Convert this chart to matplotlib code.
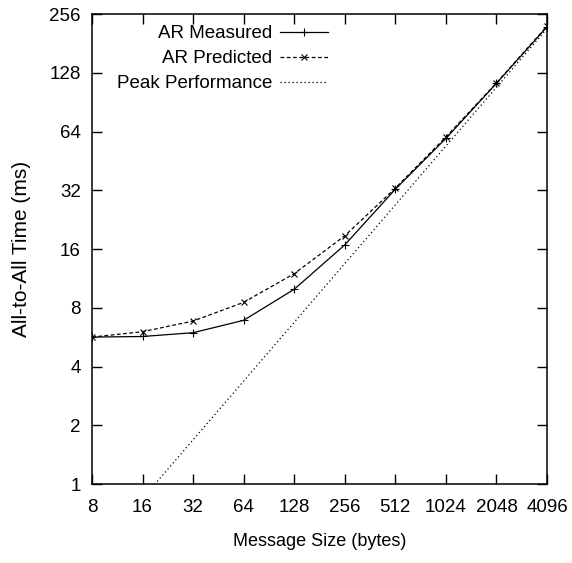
import matplotlib
matplotlib.use("Agg")
import matplotlib.pyplot as plt
from matplotlib.ticker import FixedLocator, FixedFormatter, NullLocator

plt.rcParams["font.family"] = ["Liberation Sans", "DejaVu Sans"]

# message sizes (bytes) and all-to-all times (ms)
sizes = [8, 16, 32, 64, 128, 256, 512, 1024, 2048, 4096]
measured = [5.66, 5.7, 5.96, 6.9, 9.95, 16.8, 32.4, 59.0, 113.0, 220.0]
predicted = [5.66, 6.03, 6.84, 8.53, 11.96, 18.7, 32.8, 60.0, 113.5, 222.0]
peak_sizes = [8, 4096]
peak_time = [8 / 19.0, 4096 / 19.0]

x_ticks = [8, 16, 32, 64, 128, 256, 512, 1024, 2048, 4096]
y_ticks = [1, 2, 4, 8, 16, 32, 64, 128, 256]

fig = plt.figure(figsize=(5.72, 5.63), dpi=100)
ax = fig.add_axes([0.1608, 0.1403, 0.7955, 0.8348])

ax.plot(sizes, measured, color="black", lw=0.9, marker="+", ms=6, mew=0.8,
        label="AR Measured")
ax.plot(sizes, predicted, color="black", lw=0.9, ls=(0, (3, 2)), marker="x",
        ms=5, mew=0.8, label="AR Predicted")
ax.plot(peak_sizes, peak_time, color="black", lw=0.9, ls=(0, (1, 2.2)),
        label="Peak Performance")

ax.set_xscale("log", base=2)
ax.set_yscale("log", base=2)
ax.set_xlim(8, 4096)
ax.set_ylim(1, 256)

ax.xaxis.set_major_locator(FixedLocator(x_ticks))
ax.xaxis.set_major_formatter(FixedFormatter([str(v) for v in x_ticks]))
ax.yaxis.set_major_locator(FixedLocator(y_ticks))
ax.yaxis.set_major_formatter(FixedFormatter([str(v) for v in y_ticks]))
ax.xaxis.set_minor_locator(NullLocator())
ax.yaxis.set_minor_locator(NullLocator())
ax.tick_params(direction="in", length=7, width=1, top=True, right=True,
               labelsize=13.5)
ax.tick_params(axis="x", pad=11)
ax.tick_params(axis="y", pad=8)
for s in ax.spines.values():
    s.set_linewidth(1.1)

ax.set_xlabel("Message Size (bytes)", fontsize=13, labelpad=12)
ax.set_ylabel("All-to-All Time (ms)", fontsize=15, labelpad=13)

ax.legend(loc="upper right", bbox_to_anchor=(328 / 572, 1 - 25 / 563),
          bbox_transform=fig.transFigure, frameon=False, markerfirst=False,
          fontsize=13.5, handlelength=2.56, handletextpad=0.43,
          labelspacing=0.42, borderpad=0, borderaxespad=0)

fig.savefig("out.png", dpi=100)
